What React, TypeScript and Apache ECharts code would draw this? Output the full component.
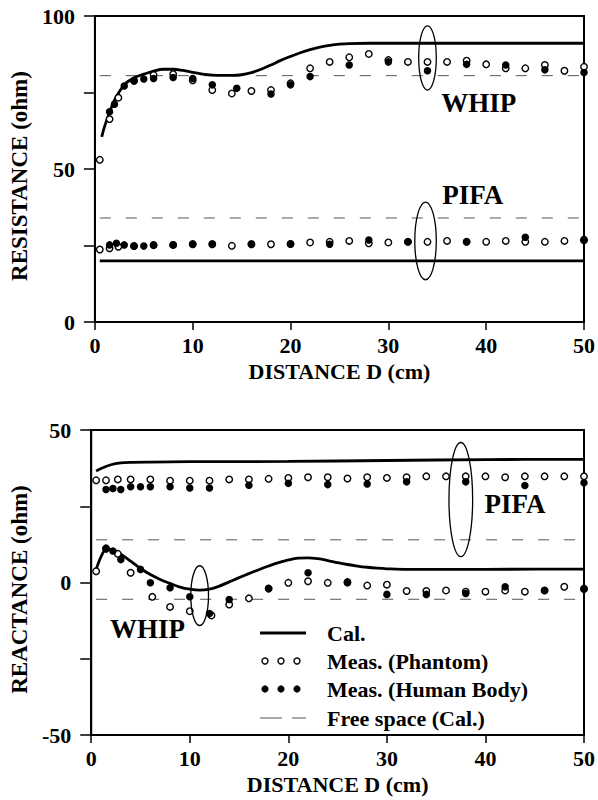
import React, { useEffect, useRef } from 'react';
import * as echarts from 'echarts';

// ---------- Tick labels / axes ----------
const distanceTicks = [0, 10, 20, 30, 40, 50];
const resistanceLabels = [0, 50, 100];
const reactanceLabels = [-50, 0, 50];

// ---------- RESISTANCE (top) ----------
const whipResCalX = [0.7, 1, 1.5, 2, 3, 4, 5, 6, 7, 8, 9, 10, 11, 12, 13, 14, 15, 16, 17, 18, 19, 20, 21, 22, 23, 24, 25, 26, 28, 30, 35, 40, 45, 50];
const whipResCalY = [60.5, 64, 68.5, 72.5, 77.5, 79.8, 81, 82, 82.6, 82.6, 82.2, 81.6, 81, 80.7, 80.6, 80.6, 80.8, 81.5, 82.6, 84, 85.5, 86.8, 88, 89, 89.8, 90.4, 90.8, 91, 91.1, 91.1, 91.1, 91.1, 91.1, 91.1];
const pifaResCalX = [0.5, 50];
const pifaResCalY = [20, 20];
const whipResFreeY = 80.5;
const pifaResFreeY = 34;

const whipResPhantomX = [0.5, 1.5, 2.4, 4, 6, 8, 10, 12, 14, 16, 18, 20, 22, 24, 26, 28, 30, 32, 34, 36, 38, 40, 42, 44, 46, 48, 50];
const whipResPhantomY = [53, 66.3, 73.3, 78.8, 80.7, 81, 79, 75.8, 74.7, 75.5, 75.8, 78, 82.9, 85, 86.5, 87.6, 85.6, 85, 85, 85, 85.4, 84.2, 82.9, 82.9, 84, 82.1, 83.4];
const whipResBodyX = [1.5, 2, 3, 4, 5, 6, 8, 10, 12, 14.5, 18, 20, 22, 26, 30, 34, 38, 42, 46, 50];
const whipResBodyY = [68.7, 71.2, 77.1, 78.8, 79.4, 79.6, 79.9, 79.6, 77.5, 76.4, 74.5, 77.5, 80.2, 84, 85, 82.1, 84.2, 84, 82.4, 81.5];

const pifaResPhantomX = [0.5, 1.5, 2.4, 4, 6, 8, 10, 12, 14, 16, 18, 20, 22, 24, 26, 28, 30, 32, 34, 36, 38, 40, 42, 44, 46, 48, 50];
const pifaResPhantomY = [23.7, 24.1, 24.6, 24.8, 25.1, 25.2, 25.4, 25.4, 24.9, 25.4, 25.4, 25.5, 26, 26.2, 26.5, 25.7, 26, 26.2, 26.2, 26.5, 26.2, 26.2, 26.5, 26.2, 26.2, 26.5, 26.7];
const pifaResBodyX = [1.5, 2.2, 3, 4, 5, 6, 8, 10, 12, 16, 20, 24, 28, 32, 38, 44, 50];
const pifaResBodyY = [25.2, 25.7, 25.2, 24.8, 24.8, 25.2, 25.2, 25.5, 25.5, 25.5, 25.5, 25.4, 26.8, 26.2, 26.2, 27.7, 27];

// ---------- REACTANCE (bottom) ----------
const pifaReaCalX = [0.5, 1, 2, 3, 4, 6, 10, 20, 30, 40, 50];
const pifaReaCalY = [36.5, 37.4, 38.6, 39.2, 39.4, 39.5, 39.6, 39.7, 40, 40.3, 40.4];
const whipReaCalX = [0.5, 1, 1.5, 2, 2.5, 3, 4, 5, 6, 7, 8, 9, 10, 11, 12, 13, 14, 15, 16, 17, 18, 19, 20, 21, 22, 23, 24, 25, 26, 27, 28, 29, 30, 32, 35, 40, 45, 50];
const whipReaCalY = [4.3, 8.5, 10.8, 10.8, 10.2, 9.3, 7, 4.6, 2.6, 1, -0.3, -1.5, -2.2, -2.5, -2.2, -1.2, 0.2, 1.6, 2.9, 4.2, 5.4, 6.5, 7.4, 8, 8.1, 7.8, 7.2, 6.5, 5.9, 5.4, 5, 4.7, 4.5, 4.3, 4.3, 4.3, 4.4, 4.4];
const pifaReaFreeY = 14;
const whipReaFreeY = -5.5;

const pifaReaPhantomX = [0.5, 1.5, 2.7, 4, 6, 8, 10, 12, 14, 16, 18, 20, 22, 24, 26, 28, 30, 32, 34, 36, 38, 40, 42, 44, 46, 48, 50];
const pifaReaPhantomY = [33.5, 33.5, 33.8, 33.8, 33.8, 33.4, 33.4, 33.4, 33.8, 33.8, 34, 34.3, 34.5, 34.5, 34.1, 34.5, 34.3, 34.5, 34.8, 34.8, 34.8, 34.8, 34.5, 34.8, 34.8, 34.8, 34.8];
const pifaReaBodyX = [1.5, 2.2, 3, 4, 5, 6, 8, 10, 12, 16, 20, 24, 28, 32, 38, 44, 50];
const pifaReaBodyY = [30.5, 30.8, 30.5, 31.4, 31.4, 31.4, 31.4, 31, 31, 31.9, 32.5, 32.1, 32.3, 33, 33, 31.8, 32.7];

const whipReaPhantomX = [0.5, 1.5, 2.7, 4, 6.2, 8, 10, 12.2, 14, 16, 18, 20, 22, 24, 26, 28, 30, 32, 34, 36, 38, 40, 42, 44, 46, 48, 50];
const whipReaPhantomY = [3.7, 11.2, 9.4, 3.2, -4.7, -8, -9.4, -10.8, -7.2, -5.2, -2, -0.1, 0.4, -0.1, 0, -1, -0.7, -2.8, -2.8, -2.6, -3, -3, -2.6, -3, -2.6, -1.4, -2];
const whipReaBodyX = [1.5, 2.2, 3, 5, 6, 8, 10, 12, 14, 18, 22, 26, 30, 34, 38, 42, 46, 50];
const whipReaBodyY = [11, 10.3, 7.5, 4.3, -0.1, -1.7, -4.7, -10.2, -5.6, -2, 3.2, 0.2, -3.9, -3.9, -3.6, -1.4, -2.6, -2.2];

const pairs = (xs: number[], ys: number[]) => xs.map((x, i) => [x, ys[i]]);

const FONT = 'Liberation Serif';

export default function App() {
  const ref = useRef<HTMLDivElement>(null);

  useEffect(() => {
    const chart = echarts.init(ref.current!, null, { renderer: 'svg' });

    const textStyle = { color: '#000', fontFamily: FONT, fontWeight: 'bold' as const, fontSize: 22 };

    const xAxis = (gridIndex: number) => ({
      gridIndex,
      type: 'value',
      min: distanceTicks[0],
      max: distanceTicks[distanceTicks.length - 1],
      interval: 10,
      axisLine: { show: true, onZero: false, lineStyle: { color: '#000', width: 2 } },
      axisTick: { show: true, inside: false, length: 8, lineStyle: { color: '#000', width: 1.5 } },
      axisLabel: { ...textStyle, margin: 12 },
      splitLine: { show: false },
      name: 'DISTANCE D (cm)',
      nameLocation: 'middle',
      nameGap: 38,
      nameTextStyle: { ...textStyle },
    });

    const yAxis = (gridIndex: number, min: number, max: number, labels: number[], name: string) => ({
      gridIndex,
      type: 'value',
      min,
      max,
      interval: 25,
      axisLine: { show: true, onZero: false, lineStyle: { color: '#000', width: 2 } },
      axisTick: { show: true, inside: false, length: 11, lineStyle: { color: '#000', width: 1.5 } },
      axisLabel: {
        ...textStyle,
        margin: 20,
        formatter: (v: number) => (labels.includes(v) ? String(v) : ''),
      },
      splitLine: { show: false },
      name,
      nameLocation: 'middle',
      nameGap: 57,
      nameTextStyle: { ...textStyle, fontSize: 23, padding: [0, 14, 0, 0] },
    });

    const calLine = (name: string, g: number, data: number[][]) => ({
      name,
      type: 'line',
      xAxisIndex: g,
      yAxisIndex: g,
      data,
      smooth: 0.35,
      showSymbol: false,
      symbol: 'none',
      lineStyle: { color: '#000', width: 2.8 },
      z: 3,
    });
    const freeLine = (g: number, v: number) => ({
      name: 'Free space (Cal.)',
      type: 'line',
      xAxisIndex: g,
      yAxisIndex: g,
      data: [[0.5, v], [50, v]],
      showSymbol: false,
      symbol: 'none',
      lineStyle: { color: '#555', width: 1, type: [11, 15] },
      z: 2,
    });
    const phantom = (g: number, data: number[][]) => ({
      name: 'Meas. (Phantom)',
      type: 'scatter',
      xAxisIndex: g,
      yAxisIndex: g,
      data,
      symbol: 'circle',
      symbolSize: 6.5,
      itemStyle: { color: '#fff', borderColor: '#000', borderWidth: 1.4, opacity: 1 },
      z: 4,
    });
    const body = (g: number, data: number[][]) => ({
      name: 'Meas. (Human Body)',
      type: 'scatter',
      xAxisIndex: g,
      yAxisIndex: g,
      data,
      symbol: 'circle',
      symbolSize: 7.5,
      itemStyle: { color: '#000', opacity: 1 },
      z: 5,
    });

    chart.setOption({
      animation: false,
      backgroundColor: '#fff',
      grid: [
        { left: 89, top: 16, width: 499, height: 306, show: true, borderColor: '#000', borderWidth: 2 },
        { left: 89, top: 430, width: 499, height: 305, show: true, borderColor: '#000', borderWidth: 2 },
      ],
      xAxis: [xAxis(0), xAxis(1)],
      yAxis: [
        yAxis(0, 0, 100, resistanceLabels, 'RESISTANCE (ohm)'),
        yAxis(1, -50, 50, reactanceLabels, 'REACTANCE (ohm)'),
      ],
      series: [
        calLine('Cal.', 0, pairs(whipResCalX, whipResCalY)),
        calLine('Cal.', 0, pairs(pifaResCalX, pifaResCalY)),
        freeLine(0, whipResFreeY),
        freeLine(0, pifaResFreeY),
        phantom(0, pairs(whipResPhantomX, whipResPhantomY)),
        phantom(0, pairs(pifaResPhantomX, pifaResPhantomY)),
        body(0, pairs(whipResBodyX, whipResBodyY)),
        body(0, pairs(pifaResBodyX, pifaResBodyY)),
        calLine('Cal.', 1, pairs(pifaReaCalX, pifaReaCalY)),
        calLine('Cal.', 1, pairs(whipReaCalX, whipReaCalY)),
        freeLine(1, pifaReaFreeY),
        freeLine(1, whipReaFreeY),
        phantom(1, pairs(pifaReaPhantomX, pifaReaPhantomY)),
        phantom(1, pairs(whipReaPhantomX, whipReaPhantomY)),
        body(1, pairs(pifaReaBodyX, pifaReaBodyY)),
        body(1, pairs(whipReaBodyX, whipReaBodyY)),
      ],
    });

    // ----- annotations positioned through the axes -----
    const px = (g: number, x: number, y: number) => chart.convertToPixel({ gridIndex: g } as any, [x, y]) as number[];
    const ellipse = (g: number, cx: number, cy: number, rxData: number, ryData: number) => {
      const c = px(g, cx, cy);
      const e = px(g, cx + rxData, cy + ryData);
      return {
        type: 'ellipse',
        shape: { cx: c[0], cy: c[1], rx: Math.abs(e[0] - c[0]), ry: Math.abs(e[1] - c[1]) },
        style: { fill: 'none', stroke: '#000', lineWidth: 1.3 },
        z: 10,
      };
    };
    const label = (g: number, x: number, y: number, text: string) => {
      const p = px(g, x, y);
      return {
        type: 'text',
        x: p[0],
        y: p[1],
        style: { text, fill: '#000', fontFamily: FONT, fontWeight: 'bold', fontSize: 27, align: 'left', verticalAlign: 'middle' },
        z: 10,
      };
    };

    // legend (bottom plot)
    const lgX0 = 260;
    const lgX1 = 306;
    const lgText = 327;
    const rows = [633, 661, 689, 718];
    const legendText = ['Cal.', 'Meas. (Phantom)', 'Meas. (Human Body)', 'Free space (Cal.)'];
    const legend: any[] = [];
    legend.push({ type: 'line', shape: { x1: lgX0, y1: rows[0], x2: lgX1, y2: rows[0] }, style: { stroke: '#000', lineWidth: 2.8 }, z: 10 });
    [265, 281, 297].forEach((cx) => {
      legend.push({ type: 'circle', shape: { cx, cy: rows[1], r: 3 }, style: { fill: '#fff', stroke: '#000', lineWidth: 1.4 }, z: 10 });
      legend.push({ type: 'circle', shape: { cx, cy: rows[2], r: 3.6 }, style: { fill: '#000' }, z: 10 });
    });
    legend.push({ type: 'line', shape: { x1: lgX0, y1: rows[3], x2: 282, y2: rows[3] }, style: { stroke: '#555', lineWidth: 1 }, z: 10 });
    legend.push({ type: 'line', shape: { x1: 292, y1: rows[3], x2: lgX1, y2: rows[3] }, style: { stroke: '#555', lineWidth: 1 }, z: 10 });
    legendText.forEach((t, i) => {
      legend.push({
        type: 'text',
        x: lgText,
        y: rows[i],
        style: { text: t, fill: '#000', fontFamily: FONT, fontWeight: 'bold', fontSize: 22, align: 'left', verticalAlign: 'middle' },
        z: 10,
      });
    });

    chart.setOption({
      graphic: [
        ellipse(0, 34, 86.3, 0.9, 10.5),
        ellipse(0, 33.8, 26.5, 1.1, 12.7),
        label(0, 35.4, 71.6, 'WHIP'),
        label(0, 35.5, 41.5, 'PIFA'),
        ellipse(1, 11, -4.3, 0.9, 9.8),
        ellipse(1, 37.5, 27.2, 1.2, 18.7),
        label(1, 39.9, 25.9, 'PIFA'),
        label(1, 1.9, -15.4, 'WHIP'),
        ...legend,
      ],
    });

    return () => chart.dispose();
  }, []);

  return <div ref={ref} style={{ position: 'absolute', left: 0, top: 0, width: 598, height: 800 }} />;
}
